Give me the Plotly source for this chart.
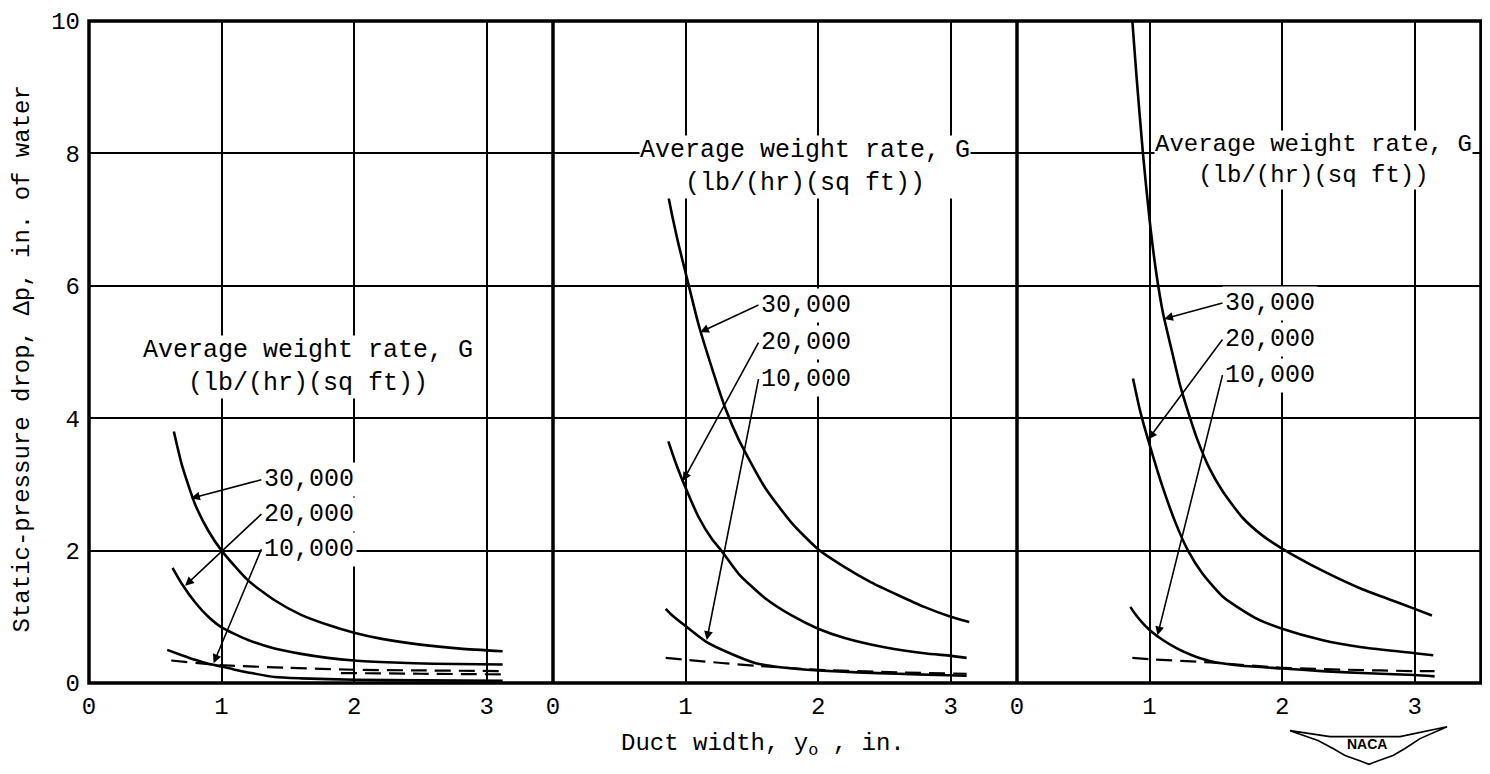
import plotly.graph_objects as go

# ---------------- data ----------------
X_TICKS = [0, 1, 2, 3]
Y_TICKS = [0, 2, 4, 6, 8, 10]
SERIES_LABELS = ["30,000", "20,000", "10,000"]

# Left panel
L30_X = [0.64, 0.70, 0.80, 0.90, 1.00, 1.20, 1.40, 1.60, 1.80, 2.00, 2.20, 2.50, 2.80, 3.12]
L30_Y = [3.80, 3.30, 2.70, 2.30, 2.00, 1.55, 1.25, 1.03, 0.88, 0.76, 0.67, 0.58, 0.52, 0.48]
L20_X = [0.63, 0.70, 0.80, 0.90, 1.00, 1.20, 1.40, 1.60, 1.80, 2.00, 2.30, 2.60, 3.12]
L20_Y = [1.74, 1.50, 1.22, 1.00, 0.84, 0.65, 0.52, 0.44, 0.38, 0.34, 0.31, 0.29, 0.28]
L10_X = [0.59, 0.70, 0.80, 0.90, 1.00, 1.10, 1.20, 1.40, 1.60, 2.00, 2.50, 3.12]
L10_Y = [0.50, 0.42, 0.35, 0.29, 0.25, 0.20, 0.16, 0.09, 0.07, 0.05, 0.04, 0.035]
LD_X = [0.62, 1.00, 1.50, 2.00, 2.50, 3.12]
LD_Y = [0.34, 0.27, 0.23, 0.20, 0.19, 0.18]
LD2_X = [1.90, 2.50, 3.12]
LD2_Y = [0.15, 0.14, 0.13]

# Middle panel
M30_X = [0.86, 0.90, 0.95, 1.00, 1.10, 1.20, 1.30, 1.40, 1.60, 1.80, 2.00, 2.20, 2.40, 2.60, 2.80, 3.00, 3.14]
M30_Y = [7.45, 7.05, 6.60, 6.20, 5.40, 4.75, 4.15, 3.68, 2.95, 2.42, 2.02, 1.75, 1.52, 1.33, 1.15, 1.00, 0.92]
M20_X = [0.87, 0.93, 1.00, 1.10, 1.20, 1.27, 1.40, 1.60, 1.80, 2.00, 2.20, 2.50, 2.80, 3.00, 3.12]
M20_Y = [3.65, 3.30, 2.95, 2.50, 2.17, 2.00, 1.65, 1.28, 1.02, 0.82, 0.68, 0.54, 0.45, 0.41, 0.38]
M10_X = [0.85, 0.90, 1.00, 1.15, 1.30, 1.53, 1.75, 2.00, 2.30, 2.60, 2.90, 3.12]
M10_Y = [1.12, 1.02, 0.86, 0.63, 0.48, 0.30, 0.23, 0.19, 0.16, 0.14, 0.12, 0.11]
MD_X = [0.85, 1.00, 1.53, 2.00, 2.60, 3.12]
MD_Y = [0.38, 0.35, 0.26, 0.20, 0.16, 0.14]

# Right panel
R30_X = [0.87, 0.90, 0.95, 1.00, 1.05, 1.10, 1.17, 1.23, 1.29, 1.36, 1.45, 1.55, 1.70, 1.85, 2.00, 2.30, 2.60, 2.80, 3.00, 3.13]
R30_Y = [10.0, 9.20, 8.00, 7.00, 6.20, 5.60, 5.00, 4.50, 4.10, 3.68, 3.25, 2.90, 2.50, 2.23, 2.03, 1.70, 1.42, 1.27, 1.12, 1.02]
R20_X = [0.875, 0.93, 1.00, 1.10, 1.20, 1.29, 1.40, 1.56, 1.80, 2.00, 2.30, 2.60, 3.00, 3.14]
R20_Y = [4.60, 4.10, 3.60, 2.95, 2.40, 2.00, 1.65, 1.29, 0.98, 0.82, 0.65, 0.54, 0.45, 0.42]
R10_X = [0.855, 0.90, 1.00, 1.10, 1.21, 1.32, 1.46, 1.70, 2.00, 2.30, 2.60, 3.00, 3.15]
R10_Y = [1.15, 1.02, 0.80, 0.65, 0.52, 0.42, 0.33, 0.26, 0.22, 0.18, 0.15, 0.12, 0.10]
RD_X = [0.87, 1.00, 1.46, 2.00, 2.50, 3.00, 3.15]
RD_Y = [0.38, 0.36, 0.31, 0.23, 0.20, 0.18, 0.18]

# ---------------- layout geometry ----------------
OFF = 8                      # default page margin of the html body
W, H = 1490 - 2 * OFF, 774 - 2 * OFF
ML, MR, MT, MB = 81, 1, 8, 83
PW = W - ML - MR
PH = H - MT - MB
FONT = "Liberation Mono"
FS = 24


def paper(px, py):
    """page pixel -> paper coordinates"""
    return (px - OFF - ML) / PW, (H - MB - (py - OFF)) / PH


fig = go.Figure()

solid = dict(color="black", width=2.6, shape="spline", smoothing=0.6)
dashed = dict(color="black", width=2.2, dash="16px,8px", shape="spline", smoothing=0.6)

panels = [
    ("x", [(L30_X, L30_Y, solid), (L20_X, L20_Y, solid), (L10_X, L10_Y, solid),
           (LD_X, LD_Y, dashed), (LD2_X, LD2_Y, dashed)]),
    ("x2", [(M30_X, M30_Y, solid), (M20_X, M20_Y, solid), (M10_X, M10_Y, solid),
            (MD_X, MD_Y, dashed)]),
    ("x3", [(R30_X, R30_Y, solid), (R20_X, R20_Y, solid), (R10_X, R10_Y, solid),
            (RD_X, RD_Y, dashed)]),
]
for xa, curves in panels:
    for xs, ys, ln in curves:
        fig.add_trace(go.Scatter(x=xs, y=ys, mode="lines", line=ln, xaxis=xa, yaxis="y",
                                 showlegend=False, hoverinfo="skip", cliponaxis=True))

axis_common = dict(range=[0, 3.5], tickvals=X_TICKS, ticktext=[str(v) for v in X_TICKS],
                   showgrid=True, gridcolor="black", gridwidth=2, zeroline=False,
                   showline=False, ticks="", tickfont=dict(family=FONT, size=FS, color="black"),
                   ticklabelstandoff=6, ticklabeloverflow="allow", fixedrange=True, anchor="y")
fig.update_layout(
    width=W, height=H,
    margin=dict(l=ML, r=MR, t=MT, b=MB, pad=0),
    paper_bgcolor="white", plot_bgcolor="white",
    showlegend=False,
    xaxis=dict(domain=[0, 1/3], **axis_common),
    xaxis2=dict(domain=[1/3, 2/3], **axis_common),
    xaxis3=dict(domain=[2/3, 1], **axis_common),
    yaxis=dict(range=[0, 10], tickvals=Y_TICKS, showgrid=True, gridcolor="black", gridwidth=2,
               zeroline=False, showline=False, ticks="", anchor="x",
               tickfont=dict(family=FONT, size=FS, color="black"), ticklabelstandoff=8,
               ticklabeloverflow="allow", fixedrange=True),
)

# frame and panel dividers
shapes = [dict(type="rect", xref="paper", yref="paper", x0=0, x1=1, y0=0, y1=1,
               line=dict(color="black", width=3.5))]
for xp in (1/3, 2/3):
    shapes.append(dict(type="line", xref="paper", yref="paper", x0=xp, x1=xp, y0=0, y1=1,
                       line=dict(color="black", width=3.5)))

# NACA wing logo (decoration)
logo_px = [(1290, 731), (1330, 737), (1400, 737), (1447, 727), (1420, 739), (1405, 749),
           (1393, 756), (1379, 761), (1369, 765), (1359, 761), (1345, 756), (1333, 749),
           (1318, 741)]
pts = [paper(a, b) for a, b in logo_px]
path = "M " + " L ".join(f"{a:.4f},{b:.4f}" for a, b in pts) + " Z"
shapes.append(dict(type="path", xref="paper", yref="paper", path=path,
                   line=dict(color="black", width=1.6), fillcolor="white"))
fig.update_layout(shapes=shapes)

ann = []
title_txt = "Average weight rate, G<br>(lb/(hr)(sq ft))"
for xa, xc, yc, fs in [("x", 1.65, 4.78, FS + 1), ("x2", 1.90, 7.80, FS + 1), ("x3", 2.24, 7.90, FS)]:
    ann.append(dict(text=title_txt, xref=xa, yref="y", x=xc, y=yc, showarrow=False,
                    xanchor="center", yanchor="middle", bgcolor="white", borderpad=0,
                    font=dict(family=FONT, size=fs, color="black")))

# labels with leader arrows: (axis, label left x, label ys, arrow tips)
label_specs = [
    ("x", 1.30, [3.07, 2.55, 2.02], [(0.77, 2.79), (0.725, 1.47), (0.94, 0.30)]),
    ("x2", 1.55, [5.71, 5.14, 4.59], [(1.11, 5.30), (0.98, 3.05), (1.16, 0.65)]),
    ("x3", 1.55, [5.74, 5.19, 4.65], [(1.11, 5.50), (0.99, 3.68), (1.06, 0.72)]),
]
for xa, lx, lys, tips in label_specs:
    for txt, ly, (hx, hy) in zip(SERIES_LABELS, lys, tips):
        ann.append(dict(text=txt, xref=xa, yref="y", x=hx, y=hy, axref=xa, ayref="y",
                        ax=lx, ay=ly, showarrow=True, arrowhead=2, arrowsize=1.1,
                        arrowwidth=1.6, arrowcolor="black", standoff=0,
                        xanchor="left", yanchor="middle", bgcolor="white", borderpad=2,
                        font=dict(family=FONT, size=FS + 1, color="black")))

# axis titles
ax_, ay_ = paper(22, 357)
ann.append(dict(text="Static-pressure drop, \u0394p, in. of water", xref="paper", yref="paper",
                x=ax_, y=ay_, textangle=-90, showarrow=False, xanchor="center", yanchor="middle",
                font=dict(family=FONT, size=FS, color="black")))
bx, by = paper(763, 745)
ann.append(dict(text="Duct width, y<sub>o</sub> , in.", xref="paper", yref="paper",
                x=bx, y=by, showarrow=False, xanchor="center", yanchor="middle",
                font=dict(family=FONT, size=FS, color="black")))
nx, ny = paper(1367, 744)
ann.append(dict(text="<b>NACA</b>", xref="paper", yref="paper", x=nx, y=ny, showarrow=False,
                xanchor="center", yanchor="middle",
                font=dict(family="Liberation Sans Narrow, Liberation Sans", size=14, color="black")))
fig.update_layout(annotations=ann)

fig.write_html("out.html")
